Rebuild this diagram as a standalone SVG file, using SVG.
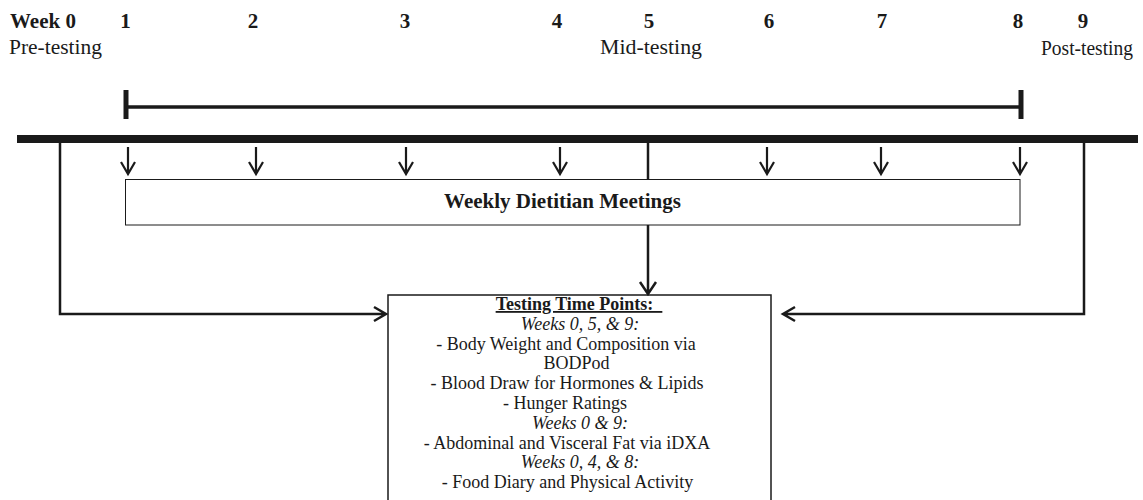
<svg xmlns="http://www.w3.org/2000/svg" width="1143" height="500" viewBox="0 0 1143 500">
<style>
.wk{font-family:"Liberation Serif","Times New Roman",serif;font-weight:bold;font-size:21px;fill:#1a1a1a}
.ph{font-family:"Liberation Serif","Times New Roman",serif;font-size:21px;fill:#1a1a1a}
.bt{font-family:"Liberation Serif","Times New Roman",serif;font-size:18px;fill:#1a1a1a;text-anchor:middle}
.it{font-style:italic}
.bd{font-weight:bold}
.ln{stroke:#1a1a1a;fill:none;stroke-width:2.5}
.ar{stroke:#1a1a1a;fill:none;stroke-width:2.2}
.box{fill:#fff;stroke:#1a1a1a}
</style>
<g id="timeline-labels">
<text class="wk" x="10" y="28">Week 0</text>
<text class="wk" x="125.5" y="28" text-anchor="middle">1</text>
<text class="wk" x="253" y="28" text-anchor="middle">2</text>
<text class="wk" x="405" y="28" text-anchor="middle">3</text>
<text class="wk" x="557" y="28" text-anchor="middle">4</text>
<text class="wk" x="649" y="28" text-anchor="middle">5</text>
<text class="wk" x="769" y="28" text-anchor="middle">6</text>
<text class="wk" x="882" y="28" text-anchor="middle">7</text>
<text class="wk" x="1018" y="28" text-anchor="middle">8</text>
<text class="wk" x="1083" y="28" text-anchor="middle">9</text>
<text class="ph" x="9" y="54" textLength="93" lengthAdjust="spacingAndGlyphs">Pre-testing</text>
<text class="ph" x="600" y="54" textLength="102" lengthAdjust="spacingAndGlyphs">Mid-testing</text>
<text class="ph" x="1041" y="55" textLength="92" lengthAdjust="spacingAndGlyphs">Post-testing</text>
</g>
<g id="intervention-range">
<line x1="126" y1="107" x2="1021" y2="107" stroke="#1a1a1a" stroke-width="3.5"/>
<line x1="126" y1="90" x2="126" y2="119" stroke="#1a1a1a" stroke-width="5"/>
<line x1="1021" y1="90" x2="1021" y2="119" stroke="#1a1a1a" stroke-width="5"/>
</g>
<g id="main-timeline">
<line x1="17" y1="139" x2="1138" y2="139" stroke="#1a1a1a" stroke-width="8"/>
</g>
<g id="dietitian-box">
<rect class="box" x="125.5" y="179.5" width="894.5" height="45.5"/>
<text class="wk" x="562.5" y="208" text-anchor="middle" font-size="19.7">Weekly Dietitian Meetings</text>
</g>
<g id="testing-box">
<rect class="box" x="388" y="295" width="383" height="220" stroke-width="1.5"/>
<text class="bt bd" x="579" y="310" xml:space="preserve" text-decoration="underline">Testing Time Points:  </text>
<text class="bt it" x="580" y="330">Weeks 0, 5, &amp; 9:</text>
<text class="bt" x="566" y="350">- Body Weight and Composition via</text>
<text class="bt" x="576.5" y="369">BODPod</text>
<text class="bt" x="567" y="389">- Blood Draw for Hormones &amp; Lipids</text>
<text class="bt" x="565" y="409">- Hunger Ratings</text>
<text class="bt it" x="580" y="429">Weeks 0 &amp; 9:</text>
<text class="bt" x="567" y="449">- Abdominal and Visceral Fat via iDXA</text>
<text class="bt it" x="580" y="468">Weeks 0, 4, &amp; 8:</text>
<text class="bt" x="567.5" y="488">- Food Diary and Physical Activity</text>
</g>
<g id="connectors">
<path class="ar" d="M128 147V174M121 162L128 174L135 162"/>
<path class="ar" d="M256 147V174M249 162L256 174L263 162"/>
<path class="ar" d="M406 147V174M399 162L406 174L413 162"/>
<path class="ar" d="M560 147V174M553 162L560 174L567 162"/>
<path class="ar" d="M767 147V174M760 162L767 174L774 162"/>
<path class="ar" d="M881 147V174M874 162L881 174L888 162"/>
<path class="ar" d="M1020 147V174M1013 162L1020 174L1027 162"/>
<path class="ln" d="M648 143V179"/>
<path class="ln" d="M648 225V294M640 282L648 294L656 282"/>
<path class="ln" d="M60 143V314H386M374 307L386 314L374 321"/>
<path class="ln" d="M1084 143V314H783M795 307L783 314L795 321"/>
</g>
</svg>
